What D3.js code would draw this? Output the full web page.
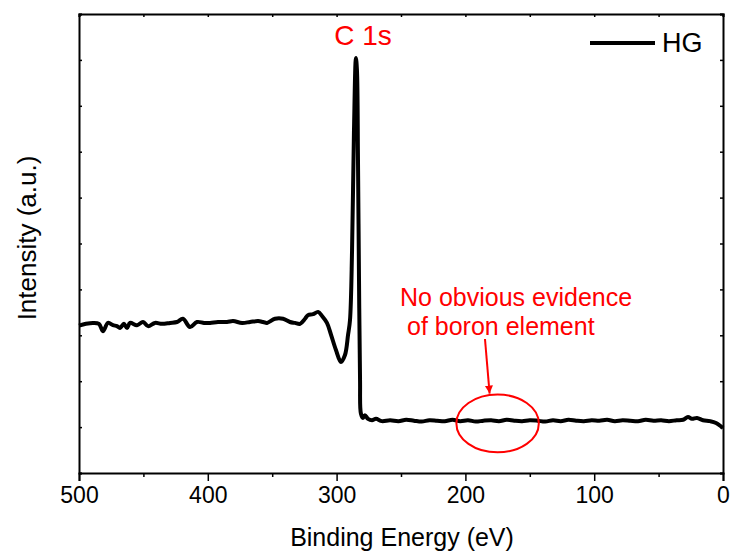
<!DOCTYPE html>
<html>
<head>
<meta charset="utf-8">
<script src="https://cdn.jsdelivr.net/npm/d3@7"></script>
<style>
  body { margin: 0; background: #fff; }
  #chart { width: 734px; height: 554px; }
  text { font-family: "Liberation Sans", Arial, sans-serif; }
</style>
</head>
<body>
<div id="chart"></div>
<script>
  // XPS survey spectrum, HG sample
  var energy = [500, 494.6, 489.1, 484.5, 481.4, 477.5, 473.6, 470.5, 468.2, 465.1, 462.7, 460.4,
    455, 450.3, 446.4, 441, 435.6, 429.3, 423.9, 419.3, 413.8, 408.4, 402.9, 398.3, 392.1,
    385.1, 380.4, 373.4, 367.2, 361, 357.1, 354, 347.8, 341.6, 336.2, 332.3, 328.4, 324.5,
    322.2, 318.3, 314.4, 311.3, 307.5, 304.3, 300.5, 296.6, 293.5, 291.1, 289.6, 288,
    286.5, 285, 284.2, 283.4, 282.6, 281.8, 281.1, 279.5, 278, 275.6, 272.5, 269.4, 264.8,
    258.5, 252, 246, 240, 234, 228, 222, 216, 210, 204, 198, 192, 186, 180, 174, 168, 162,
    156, 150, 144, 138, 132, 126, 120, 114, 108, 102, 96, 90, 84, 78, 72, 66, 60, 54, 48,
    42, 36, 31, 27.2, 24.1, 20.2, 15.5, 10.1, 5.4, 0];
  var intensity = [32.1, 32.5, 32.7, 32.5, 30.9, 32.7, 32.2, 32.0, 31.6, 32.5, 31.6, 32.7,
    32.2, 32.9, 32.0, 32.7, 32.5, 32.7, 32.9, 33.6, 31.8, 32.9, 32.7, 32.7, 32.9,
    32.9, 33.1, 32.7, 32.9, 33.1, 32.9, 32.7, 33.6, 33.6, 32.9, 32.7, 32.5, 33.6,
    34.4, 34.6, 35.1, 34.2, 32.7, 30.1, 26.8, 24.2, 25.7, 30.1, 33.3, 48.6,
    74.7, 90.4, 87.8, 68.2, 42.0, 20.3, 12.9, 12.0, 12.6, 11.8, 11.5, 11.8, 11.3,
    11.5, 11.3, 11.6, 11.4, 11.2, 11.5, 11.4, 11.3, 11.6, 11.3, 11.5, 11.2, 11.4, 11.5, 11.3, 11.6, 11.4,
    11.3, 11.5, 11.4, 11.2, 11.5, 11.3, 11.6, 11.4, 11.3, 11.5, 11.4, 11.6, 11.3, 11.5, 11.4, 11.3, 11.6, 11.4, 11.5,
    11.3, 11.5, 11.6, 12.2, 11.8, 12.0, 11.5, 11.3, 10.9, 9.8];
  var xTicks = [500, 400, 300, 200, 100, 0];
  var xMinorTicks = [450, 350, 250, 150, 50];
  var yTicks = [0, 10, 20, 30, 40, 50, 60, 70, 80, 90, 100];
  var seriesName = "HG";

  var data = energy.map(function(e, i) { return {e: e, v: intensity[i]}; });

  var width = 734, height = 554;
  var margin = {top: 14, right: 11, bottom: 81, left: 79};

  var svg = d3.select("#chart")
    .append("svg")
    .attr("width", width)
    .attr("height", height);

  var xScale = d3.scaleLinear()
    .domain([500, 0])
    .range([margin.left, width - margin.right]);

  var yScale = d3.scaleLinear()
    .domain([0, 100])
    .range([height - margin.bottom, margin.top]);

  // bottom axis, outward ticks
  var xAxis = svg.append("g")
    .attr("transform", `translate(0,${height - margin.bottom})`)
    .call(d3.axisBottom(xScale).tickValues(xTicks).tickSize(8).tickPadding(6).tickFormat(d3.format("d")));
  svg.append("g")
    .attr("transform", `translate(0,${height - margin.bottom})`)
    .call(d3.axisBottom(xScale).tickValues(xMinorTicks).tickSize(4).tickFormat(""))
    .select(".domain").remove();

  // top axis, inward ticks
  svg.append("g")
    .attr("transform", `translate(0,${margin.top})`)
    .call(d3.axisBottom(xScale).tickValues(xTicks.concat(xMinorTicks)).tickSize(3).tickFormat(""));

  // left and right axes, inward ticks, no labels
  svg.append("g")
    .attr("transform", `translate(${margin.left},0)`)
    .call(d3.axisRight(yScale).tickValues(yTicks).tickSize(3).tickFormat(""));
  svg.append("g")
    .attr("transform", `translate(${width - margin.right},0)`)
    .call(d3.axisLeft(yScale).tickValues(yTicks).tickSize(3).tickFormat(""));

  svg.selectAll(".domain").attr("stroke", "#000").attr("stroke-width", 2);
  svg.selectAll(".tick line").attr("stroke", "#000").attr("stroke-width", 1.5);
  xAxis.selectAll("text")
    .attr("font-size", "23px")
    .attr("fill", "#000")
    .attr("font-family", "Liberation Sans, Arial, sans-serif");

  svg.append("text")
    .attr("x", 402)
    .attr("y", 546)
    .attr("text-anchor", "middle")
    .attr("font-size", "25px")
    .text("Binding Energy (eV)");

  svg.append("text")
    .attr("transform", "rotate(-90)")
    .attr("x", -238)
    .attr("y", 36)
    .attr("text-anchor", "middle")
    .attr("font-size", "26px")
    .text("Intensity (a.u.)");

  // spectrum
  var line = d3.line()
    .curve(d3.curveCatmullRom.alpha(0.5))
    .x(function(d) { return xScale(d.e); })
    .y(function(d) { return yScale(d.v); });

  svg.append("path")
    .datum(data)
    .attr("fill", "none")
    .attr("stroke", "#000")
    .attr("stroke-width", 4)
    .attr("stroke-linejoin", "round")
    .attr("d", line);

  // legend
  svg.append("line")
    .attr("x1", 590).attr("x2", 655)
    .attr("y1", 43).attr("y2", 43)
    .attr("stroke", "#000")
    .attr("stroke-width", 4);
  svg.append("text")
    .attr("x", 662)
    .attr("y", 52)
    .attr("font-size", "27px")
    .text(seriesName);

  // annotations
  svg.append("text")
    .attr("x", 363)
    .attr("y", 45)
    .attr("text-anchor", "middle")
    .attr("font-size", "28px")
    .attr("fill", "red")
    .text("C 1s");

  svg.append("text")
    .attr("x", 400)
    .attr("y", 306)
    .attr("font-size", "25px")
    .attr("fill", "red")
    .text("No obvious evidence");
  svg.append("text")
    .attr("x", 407)
    .attr("y", 335)
    .attr("font-size", "25px")
    .attr("fill", "red")
    .text("of boron element");

  svg.append("defs").append("marker")
    .attr("id", "arrow")
    .attr("viewBox", "0 0 10 10")
    .attr("refX", 10).attr("refY", 5)
    .attr("markerWidth", 4).attr("markerHeight", 5)
    .attr("markerUnits", "strokeWidth")
    .attr("orient", "auto")
    .append("path")
    .attr("d", "M0,0L10,5L0,10z")
    .attr("fill", "red");

  svg.append("line")
    .attr("x1", xScale(184.8)).attr("y1", yScale(29.2))
    .attr("x2", xScale(181.2)).attr("y2", yScale(17.3))
    .attr("stroke", "red")
    .attr("stroke-width", 2)
    .attr("marker-end", "url(#arrow)");

  svg.append("ellipse")
    .attr("cx", xScale(175))
    .attr("cy", yScale(10.8))
    .attr("rx", xScale(143) - xScale(175))
    .attr("ry", yScale(4.5) - yScale(10.8))
    .attr("fill", "none")
    .attr("stroke", "red")
    .attr("stroke-width", 2);
</script>
</body>
</html>
